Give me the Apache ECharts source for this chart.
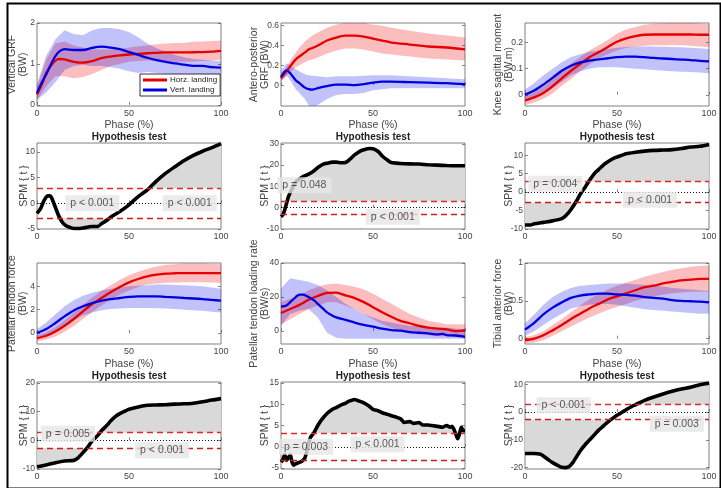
<!DOCTYPE html>
<html>
<head>
<meta charset="utf-8">
<script src="https://cdn.jsdelivr.net/npm/echarts@6/dist/echarts.min.js"></script>
<style>
    html, body {margin: 0; padding: 0; background: #fff;}
    #chart {width: 721px; height: 488px;}
</style>
</head>
<body>
<div id="chart"></div>
<script>
// common phase sampling (%)
const PHASE = [0, 5, 10, 15, 20, 25, 30, 35, 40, 45, 50, 55, 60, 65, 70, 75, 80, 85, 90, 95, 100];

// vertical GRF (BW)
const vgrfX = [0, 3, 5, 8, 10, 12, 15, 20, 25, 30, 35, 40, 45, 50, 55, 60, 65, 70, 75, 80, 85, 90, 95, 100];
const vgrfHorz = [0.25, 0.53, 0.78, 0.98, 1.08, 1.12, 1.11, 1.05, 1.03, 1.07, 1.14, 1.18, 1.21, 1.23, 1.245, 1.26, 1.27, 1.28, 1.28, 1.28, 1.285, 1.29, 1.30, 1.32];
const vgrfVert = [0.29, 0.58, 0.74, 1.03, 1.19, 1.3, 1.36, 1.34, 1.34, 1.39, 1.42, 1.4, 1.36, 1.29, 1.22, 1.15, 1.09, 1.05, 1.01, 0.98, 0.95, 0.95, 0.92, 0.91];
const vgrfHorzUp = [0.45, 1.1, 1.5, 1.55, 1.45, 1.4, 1.35, 1.35, 1.35, 1.37, 1.4, 1.43, 1.45, 1.48, 1.5, 1.51, 1.52, 1.54, 1.55, 1.56, 1.57];
const vgrfHorzLo = [0.1, 0.45, 0.7, 0.7, 0.65, 0.68, 0.75, 0.85, 0.95, 1.0, 1.05, 1.07, 1.08, 1.07, 1.05, 1.05, 1.05, 1.06, 1.07, 1.08, 1.1];
const vgrfVertUp = [0.5, 1.2, 1.6, 1.82, 1.73, 1.7, 1.82, 1.88, 1.88, 1.85, 1.78, 1.65, 1.5, 1.38, 1.3, 1.22, 1.16, 1.12, 1.1, 1.08, 1.07];
const vgrfVertLo = [0.12, 0.3, 0.55, 0.85, 0.95, 0.98, 0.95, 0.95, 0.92, 0.88, 0.82, 0.78, 0.8, 0.78, 0.76, 0.75, 0.76, 0.75, 0.75, 0.75, 0.73];

// antero-posterior GRF (BW)
const apX = [0, 3, 5, 8, 10, 13, 15, 17, 20, 25, 30, 35, 40, 45, 50, 55, 60, 70, 80, 90, 100];
const apHorz = [0.07, 0.14, 0.19, 0.26, 0.29, 0.33, 0.36, 0.375, 0.4, 0.45, 0.48, 0.5, 0.5, 0.49, 0.47, 0.45, 0.43, 0.41, 0.39, 0.38, 0.36];
const apVert = [0.085, 0.15, 0.12, 0.05, 0.02, -0.025, -0.04, -0.045, -0.03, -0.01, 0.005, 0.005, 0, 0.01, 0.025, 0.035, 0.035, 0.03, 0.025, 0.02, 0.01];
const apHorzUp = [0.1, 0.18, 0.25, 0.33, 0.38, 0.44, 0.47, 0.5, 0.53, 0.58, 0.61, 0.63, 0.64, 0.63, 0.61, 0.6, 0.58, 0.55, 0.52, 0.5, 0.48];
const apHorzLo = [0.04, 0.09, 0.13, 0.18, 0.2, 0.23, 0.25, 0.26, 0.28, 0.32, 0.35, 0.37, 0.37, 0.36, 0.34, 0.32, 0.31, 0.29, 0.27, 0.26, 0.25];
const apVertUp = [0.14, 0.22, 0.2, 0.16, 0.14, 0.11, 0.1, 0.095, 0.09, 0.08, 0.09, 0.09, 0.09, 0.095, 0.1, 0.1, 0.1, 0.09, 0.08, 0.07, 0.06];
const apVertLo = [0.04, 0.1, 0.05, -0.04, -0.08, -0.14, -0.2, -0.23, -0.2, -0.14, -0.1, -0.09, -0.09, -0.08, -0.05, -0.04, -0.03, -0.03, -0.03, -0.03, -0.03];

// knee sagittal moment (BW.m)
const kneeHorz = [-0.022, -0.01, 0.007, 0.033, 0.063, 0.092, 0.118, 0.144, 0.163, 0.183, 0.203, 0.216, 0.225, 0.23, 0.231, 0.231, 0.231, 0.231, 0.231, 0.23, 0.23];
const kneeVert = [0, 0.016, 0.039, 0.065, 0.092, 0.111, 0.124, 0.131, 0.136, 0.14, 0.144, 0.146, 0.146, 0.144, 0.141, 0.139, 0.137, 0.135, 0.133, 0.13, 0.128];
const kneeHorzUp = [-0.005, 0.01, 0.03, 0.06, 0.09, 0.12, 0.145, 0.17, 0.19, 0.21, 0.235, 0.25, 0.26, 0.268, 0.272, 0.274, 0.275, 0.275, 0.275, 0.273, 0.27];
const kneeHorzLo = [-0.04, -0.03, -0.015, 0.005, 0.035, 0.06, 0.09, 0.115, 0.14, 0.155, 0.17, 0.18, 0.185, 0.188, 0.19, 0.19, 0.19, 0.19, 0.188, 0.185, 0.182];
const kneeVertUp = [0.02, 0.045, 0.075, 0.1, 0.125, 0.145, 0.155, 0.165, 0.17, 0.175, 0.18, 0.183, 0.185, 0.185, 0.185, 0.184, 0.183, 0.182, 0.18, 0.178, 0.175];
const kneeVertLo = [-0.02, -0.01, 0.005, 0.025, 0.05, 0.075, 0.09, 0.1, 0.105, 0.105, 0.105, 0.103, 0.1, 0.098, 0.095, 0.092, 0.09, 0.088, 0.087, 0.085, 0.082];

// patellar tendon force (BW)
const ptfHorz = [-0.43, -0.23, 0.14, 0.63, 1.2, 1.86, 2.49, 3.0, 3.49, 3.94, 4.34, 4.63, 4.86, 5.0, 5.09, 5.12, 5.14, 5.14, 5.14, 5.14, 5.14];
const ptfVert = [0, 0.34, 0.86, 1.43, 1.94, 2.29, 2.57, 2.77, 2.91, 3.0, 3.09, 3.14, 3.14, 3.14, 3.09, 3.05, 3.0, 2.96, 2.91, 2.84, 2.77];
const ptfHorzUp = [-0.2, 0.05, 0.5, 1.1, 1.75, 2.45, 3.05, 3.6, 4.1, 4.55, 4.95, 5.25, 5.5, 5.7, 5.85, 5.9, 5.95, 5.95, 5.95, 5.92, 5.9];
const ptfHorzLo = [-0.7, -0.55, -0.3, 0.1, 0.6, 1.2, 1.8, 2.35, 2.85, 3.3, 3.65, 3.95, 4.15, 4.25, 4.3, 4.33, 4.35, 4.35, 4.35, 4.33, 4.3];
const ptfVertUp = [0.35, 0.9, 1.6, 2.3, 2.8, 3.2, 3.45, 3.65, 3.8, 3.9, 4.0, 4.05, 4.1, 4.15, 4.15, 4.12, 4.1, 4.05, 4.0, 3.9, 3.8];
const ptfVertLo = [-0.35, -0.2, 0.15, 0.6, 1.1, 1.5, 1.75, 1.95, 2.05, 2.1, 2.15, 2.15, 2.15, 2.12, 2.1, 2.05, 2.0, 1.95, 1.9, 1.82, 1.75];

// patellar tendon loading rate (BW/s)
const ptlrHorz = [10.6, 13, 15.4, 18.4, 20.6, 22.4, 22.6, 21, 19.4, 17, 14, 11, 8.4, 6, 4.6, 3, 2, 1.4, 1, 0, 0.6];
const ptlrVertX = [0, 3, 5, 8, 10, 12, 15, 18, 20, 23, 25, 28, 30, 35, 40, 45, 50, 55, 60, 65, 70, 75, 80, 85, 88, 90, 95, 100];
const ptlrVert = [14.4, 15, 17, 20, 21.4, 21.4, 20, 18, 16, 13, 11, 9, 8, 6.6, 5, 3.6, 2.6, 1.4, 0.6, 0.2, -0.6, -1, -1.4, -2, -1.6, -2.4, -2.6, -3.4];
const ptlrHorzUp = [17, 19, 21, 24, 26, 27.5, 28, 27, 26, 24.5, 22, 19, 16, 13, 10, 8, 6, 5, 4, 4, 4];
const ptlrHorzLo = [4, 7, 10, 13, 15, 17, 17, 15, 13, 10, 7, 4, 2, 0, -1, -2, -2.5, -3, -3, -3.5, -3.5];
const ptlrVertUp = [25, 31, 30, 29, 27, 24, 20, 16, 13, 10, 8, 6, 5, 4, 3, 3, 2, 2, 2, 1.5, 1];
const ptlrVertLo = [3, 10, 12, 13, 8, -1, -4, -4.5, -4.5, -4.5, -4.5, -4.5, -4.5, -4.5, -4.5, -4.5, -4.5, -4.5, -4.5, -4.5, -4.5];

// tibial anterior force (BW)
const tafHorz = [-0.02, 0, 0.045, 0.11, 0.18, 0.26, 0.33, 0.4, 0.46, 0.52, 0.56, 0.6, 0.64, 0.68, 0.7, 0.73, 0.75, 0.77, 0.78, 0.79, 0.79];
const tafVert = [0.12, 0.21, 0.32, 0.41, 0.48, 0.54, 0.57, 0.585, 0.595, 0.595, 0.585, 0.58, 0.57, 0.55, 0.54, 0.53, 0.51, 0.5, 0.495, 0.49, 0.48];
const tafHorzUp = [0.02, 0.05, 0.1, 0.18, 0.26, 0.35, 0.44, 0.52, 0.59, 0.65, 0.7, 0.74, 0.78, 0.82, 0.85, 0.88, 0.91, 0.93, 0.95, 0.96, 0.97];
const tafHorzLo = [-0.06, -0.05, -0.02, 0.04, 0.1, 0.16, 0.22, 0.28, 0.33, 0.38, 0.42, 0.46, 0.5, 0.53, 0.56, 0.58, 0.6, 0.61, 0.62, 0.62, 0.62];
const tafVertUp = [0.2, 0.32, 0.45, 0.55, 0.62, 0.67, 0.7, 0.71, 0.72, 0.73, 0.73, 0.73, 0.72, 0.71, 0.7, 0.69, 0.67, 0.66, 0.65, 0.64, 0.63];
const tafVertLo = [0.04, 0.1, 0.18, 0.26, 0.33, 0.4, 0.43, 0.45, 0.46, 0.46, 0.45, 0.43, 0.41, 0.39, 0.38, 0.37, 0.36, 0.35, 0.34, 0.33, 0.33];

// SPM{t} curves
const spmVgrfX = [0, 2, 4, 6, 7, 8, 10, 12, 14, 16, 18, 20, 22, 25, 28, 30, 33, 35, 38, 40, 45, 50, 55, 60, 65, 70, 75, 80, 85, 90, 95, 100];
const spmVgrf = [-1.95, -1.0, 0.65, 1.43, 1.43, 1.0, -0.8, -2.6, -3.8, -4.4, -4.7, -4.9, -4.9, -4.8, -4.6, -4.5, -4.5, -4.0, -3.3, -2.7, -1.6, -0.3, 1.3, 2.6, 4.35, 5.85, 7.1, 8.3, 9.3, 10.1, 10.8, 11.6];
const spmApX = [0, 1, 2, 3, 4, 6, 8, 10, 12, 15, 18, 20, 23, 25, 28, 30, 33, 35, 38, 40, 43, 45, 48, 50, 53, 55, 58, 60, 65, 70, 75, 80, 85, 90, 95, 100];
const spmAp = [-4.2, -3.4, -1.1, 2, 5.1, 8.9, 12, 13.5, 14.6, 15.8, 17.4, 18.9, 20.5, 20.9, 21.4, 21.4, 21.1, 21.2, 23.2, 24.8, 26.6, 27.2, 27.8, 27.7, 26.3, 24.3, 22.3, 21.2, 20.8, 20.6, 20.5, 20.2, 20, 19.8, 19.7, 19.7];
const spmKneeX = [0, 3, 5, 10, 15, 20, 22, 25, 28, 30, 33, 35, 38, 40, 43, 45, 48, 50, 55, 60, 65, 70, 75, 80, 85, 90, 95, 100];
const spmKnee = [-8.9, -8.9, -8.6, -8.2, -7.8, -7.2, -6.5, -4.7, -2.4, -0.6, 1.6, 3.15, 5.2, 6.1, 7.5, 8.2, 9.1, 9.5, 10.4, 10.8, 11.1, 11.3, 11.4, 11.5, 11.8, 12.2, 12.4, 12.9];
const spmPtfX = [0, 5, 10, 15, 20, 22, 25, 28, 30, 33, 35, 38, 40, 43, 45, 48, 50, 55, 60, 65, 70, 75, 80, 85, 90, 95, 100];
const spmPtf = [-9.2, -8.6, -7.8, -7.2, -7.0, -6.3, -4.3, -2.0, -0.2, 1.7, 3.3, 5.2, 6.7, 8.5, 9.3, 10.2, 10.8, 11.6, 12.2, 12.3, 12.4, 12.6, 12.7, 12.9, 13.4, 14, 14.5];
const spmPtlrX = [0, 1, 2, 3, 4, 5, 6, 7, 8, 9, 10, 11, 12, 13, 14, 15, 16, 17, 18, 20, 22, 25, 28, 30, 33, 35, 37, 40, 42, 45, 48, 50, 53, 55, 58, 60, 63, 65, 67, 70, 72, 75, 77, 80, 82, 85, 88, 90, 92, 93, 95, 96, 97, 98, 99, 100];
const spmPtlr = [-3.6, -3.0, -1.8, -3.2, -2.6, -1.8, -3.6, -4.3, -4.0, -3.8, -3.6, -3.5, -3.1, -2.6, -1, 0.8, 2.2, 2.8, 3.4, 5, 6.3, 7.8, 8.8, 9.2, 9.9, 10.2, 10.7, 11.1, 10.8, 10.3, 9.5, 8.8, 8.4, 8.0, 7.6, 7.3, 6.9, 6.6, 5.7, 5.9, 5.5, 5.7, 5.1, 5.1, 5.0, 4.8, 4.6, 5, 4.6, 4.8, 3.0, 1.9, 3, 4.6, 3.8, 3.8];
const spmTafX = [0, 5, 8, 10, 13, 15, 18, 20, 22, 24, 26, 28, 30, 33, 35, 38, 40, 43, 45, 48, 50, 53, 55, 58, 60, 63, 65, 70, 75, 80, 85, 90, 95, 100];
const spmTaf = [-14.9, -14.9, -15.1, -15.8, -17.3, -18.2, -19.3, -19.9, -20, -19.6, -18.2, -16.1, -14, -11.5, -10.1, -8, -6.5, -4.8, -3.6, -2.1, -1.2, 0, 0.8, 2.0, 2.6, 3.6, 4.2, 5.4, 6.5, 7.5, 8.3, 8.9, 9.8, 10.4];

// critical thresholds and cluster p values [phase, t, text]
const thresholds = [2.9, 3.1, 2.85, 2.75, 3.25, 2.7];
const pLabels = [
    [[30, 0, 'p < 0.001'], [83, 0, 'p < 0.001']],
    [[12.7, 10.5, 'p = 0.048'], [60.7, -4.2, 'p < 0.001']],
    [[16.5, 2.25, 'p = 0.004'], [68, -2.1, 'p < 0.001']],
    [[16.8, 2.3, 'p = 0.005'], [68, -3.5, 'p < 0.001']],
    [[13.6, 0, 'p = 0.003'], [52.5, 0.6, 'p < 0.001']],
    [[21, 2.4, 'p < 0.001'], [82.5, -4.2, 'p = 0.003']]
];

const FONT = '"Liberation Sans", Arial, sans-serif';
const COL_LEFT = [37, 281, 525];
const ROW_TOP = [23, 143, 263, 382];
const ROW_H = [83, 86, 81, 87];
const GRID_W = 184;
const RED = '#e60000', BLUE = '#0000e0';

let option = {
    animation: false,
    backgroundColor: '#fff',
    textStyle: {fontFamily: FONT},
    grid: [], xAxis: [], yAxis: [], series: [], title: [],
    legend: {
        left: 140, top: 74, orient: 'vertical', itemGap: 2,
        padding: [2, 3, 2, 3], itemWidth: 24, itemHeight: 3,
        backgroundColor: '#fff', borderColor: '#000', borderWidth: 0.8,
        textStyle: {fontSize: 8, color: '#222', fontFamily: FONT, padding: [0, 0, 0, -2]},
        data: [{name: 'Horz. landing', icon: 'rect'}, {name: 'Vert. landing', icon: 'rect'}]
    },
    graphic: [{
        type: 'rect', left: 5, top: 1, z: 100, silent: true,
        shape: {width: 713, height: 485},
        style: {fill: 'none', stroke: '#000', lineWidth: 2}
    }]
};

function pairs(xs, ys) {
    return xs.map((x, i) => [x, ys[i]]);
}

// part of the curve beyond the threshold, with the crossing points added
function beyond(xs, ys, t, above) {
    let out = [];
    for (let i = 0; i < xs.length; i++) {
        if (i > 0) {
            let a = ys[i - 1] - t, b = ys[i] - t;
            if (a * b < 0) {
                out.push([xs[i - 1] + (xs[i] - xs[i - 1]) * a / (a - b), t]);
            }
        }
        out.push([xs[i], above ? Math.max(ys[i], t) : Math.min(ys[i], t)]);
    }
    return out;
}

function addAxes(k, col, row, min, max, ticks, name, nameGap, phaseName) {
    let tickStyle = {inside: true, length: 3, lineStyle: {color: '#666', width: 0.8}};
    option.grid.push({
        left: COL_LEFT[col], top: ROW_TOP[row], width: GRID_W, height: ROW_H[row],
        show: true, borderColor: '#808080', borderWidth: 1, backgroundColor: 'transparent'
    });
    option.xAxis.push({
        type: 'value', gridIndex: k, min: 0, max: 100, interval: 50,
        axisLine: {show: false}, splitLine: {show: false}, axisTick: tickStyle,
        axisLabel: {fontSize: 9, color: '#444', margin: 3},
        name: phaseName ? 'Phase (%)' : '', nameLocation: 'middle', nameGap: row === 0 ? 14 : 15,
        nameMoveOverlap: false,
        nameTextStyle: {fontSize: 10.5, color: '#444'}
    });
    option.yAxis[k] = {
        type: 'value', gridIndex: k, min: min, max: max,
        axisLine: {show: false}, splitLine: {show: false},
        axisTick: Object.assign({customValues: ticks}, tickStyle),
        axisLabel: {customValues: ticks, fontSize: 8.5, color: '#444', margin: 2},
        name: name, nameLocation: 'middle', nameGap: nameGap, nameMoveOverlap: false,
        nameTextStyle: {fontSize: 10.5, color: '#444', lineHeight: 11}
    };
    option.yAxis[12 + k] = {
        type: 'value', gridIndex: k, min: min, max: max, position: 'right',
        axisLine: {show: false}, splitLine: {show: false}, axisLabel: {show: false},
        axisTick: Object.assign({customValues: ticks}, tickStyle)
    };
}

// mean +/- sd band as one polygon through the axis scales
function addBand(k, xs, up, lo, color) {
    option.series.push({
        type: 'custom', xAxisIndex: k, yAxisIndex: k, data: [[xs[0], lo[0]]], silent: true,
        renderItem: function (params, api) {
            let pts = xs.map((x, i) => api.coord([x, up[i]]));
            for (let i = xs.length - 1; i >= 0; i--) {
                pts.push(api.coord([xs[i], lo[i]]));
            }
            let cs = params.coordSys;
            return {
                type: 'polygon', shape: {points: pts}, style: {fill: color},
                clipPath: {type: 'rect', shape: {x: cs.x, y: cs.y, width: cs.width, height: cs.height}}
            };
        }
    });
}

function addMean(k, xs, ys, color, name) {
    option.series.push({
        type: 'line', name: name, xAxisIndex: k, yAxisIndex: k, data: pairs(xs, ys),
        symbol: 'none', smooth: 0.3, color: color, lineStyle: {width: 2.3, color: color}
    });
}

function meanPanel(k, col, row, min, max, ticks, name, gap, d) {
    addAxes(k, col, row, min, max, ticks, name, gap, true);
    addBand(k, d.hbx, d.hup, d.hlo, 'rgba(240,0,0,0.26)');
    addMean(k, d.hx, d.h, RED, 'Horz. landing');
    addBand(k, d.vbx, d.vup, d.vlo, 'rgba(0,0,240,0.24)');
    addMean(k, d.vx, d.v, BLUE, 'Vert. landing');
}

function spmPanel(k, col, row, min, max, ticks, gap, xs, ys, thr, labels) {
    addAxes(k, col, row, min, max, ticks, 'SPM { t }', gap, false);
    let fill = {type: 'line', xAxisIndex: k, yAxisIndex: k, symbol: 'none', silent: true, z: 1, lineStyle: {width: 0, opacity: 0}};
    option.series.push(Object.assign({
        data: beyond(xs, ys, thr, true), areaStyle: {color: '#d9d9d9', opacity: 1, origin: thr}
    }, fill));
    option.series.push(Object.assign({
        data: beyond(xs, ys, -thr, false), areaStyle: {color: '#d9d9d9', opacity: 1, origin: -thr}
    }, fill));
    // threshold and zero reference lines
    option.series.push({
        type: 'line', xAxisIndex: k, yAxisIndex: k, data: [[0, 0]], z: 2, silent: true,
        symbol: 'none', lineStyle: {opacity: 0},
        markLine: {
            silent: true, symbol: ['none', 'none'], label: {show: false},
            data: [
                {yAxis: thr, lineStyle: {color: '#e02828', type: [6, 4], width: 1.3}},
                {yAxis: -thr, lineStyle: {color: '#d01e1e', type: [6, 4], width: 1.3}},
                {yAxis: 0, lineStyle: {color: '#111', type: [1, 2], width: 1}}
            ]
        }
    });
    option.series.push({
        type: 'line', xAxisIndex: k, yAxisIndex: k, data: pairs(xs, ys), z: 3,
        symbol: 'none', smooth: 0.25, lineStyle: {width: 3.6, color: '#000'}
    });
    option.series.push({
        type: 'scatter', xAxisIndex: k, yAxisIndex: k, data: labels, z: 5, silent: true,
        symbolSize: 1, itemStyle: {color: 'rgba(0,0,0,0)'},
        label: {
            show: true, position: 'inside', formatter: p => p.value[2],
            fontSize: 10.5, color: '#333', fontFamily: FONT,
            backgroundColor: '#e6e6e6', padding: [3, 5, 2, 5]
        }
    });
    option.title.push({
        text: 'Hypothesis test', left: COL_LEFT[col] + GRID_W / 2, textAlign: 'center',
        top: ROW_TOP[row] - 11, padding: 0,
        textStyle: {fontSize: 10, fontWeight: 'bold', color: '#222', fontFamily: FONT}
    });
}

meanPanel(0, 0, 0, -0.03, 2, [0, 1, 2], 'Vertical GRF\n(BW)', 8,
    {hx: vgrfX, h: vgrfHorz, vx: vgrfX, v: vgrfVert, hbx: PHASE, hup: vgrfHorzUp, hlo: vgrfHorzLo, vbx: PHASE, vup: vgrfVertUp, vlo: vgrfVertLo});
meanPanel(1, 1, 0, -0.21, 0.627, [0, 0.2, 0.4, 0.6], 'Antero-posterior\nGRF (BW)', 10,
    {hx: apX, h: apHorz, vx: apX, v: apVert, hbx: apX, hup: apHorzUp, hlo: apHorzLo, vbx: apX, vup: apVertUp, vlo: apVertLo});
meanPanel(2, 2, 0, -0.043, 0.275, [0, 0.1, 0.2], 'Knee sagittal moment\n(BW.m)', 10,
    {hx: PHASE, h: kneeHorz, vx: PHASE, v: kneeVert, hbx: PHASE, hup: kneeHorzUp, hlo: kneeHorzLo, vbx: PHASE, vup: kneeVertUp, vlo: kneeVertLo});
meanPanel(3, 0, 2, -0.94, 6, [0, 2, 4], 'Patellar tendon force\n(BW)', 8,
    {hx: PHASE, h: ptfHorz, vx: PHASE, v: ptfVert, hbx: PHASE, hup: ptfHorzUp, hlo: ptfHorzLo, vbx: PHASE, vup: ptfVertUp, vlo: ptfVertLo});
meanPanel(4, 1, 2, -7.6, 40, [0, 20, 40], 'Patellar tendon loading rate\n(BW/s)', 10,
    {hx: PHASE, h: ptlrHorz, vx: ptlrVertX, v: ptlrVert, hbx: PHASE, hup: ptlrHorzUp, hlo: ptlrHorzLo, vbx: PHASE, vup: ptlrVertUp, vlo: ptlrVertLo});
meanPanel(5, 2, 2, -0.07, 1, [0, 0.5, 1], 'Tibial anterior force\n(BW)', 10,
    {hx: PHASE, h: tafHorz, vx: PHASE, v: tafVert, hbx: PHASE, hup: tafHorzUp, hlo: tafHorzLo, vbx: PHASE, vup: tafVertUp, vlo: tafVertLo});

spmPanel(6, 0, 1, -5, 11.7, [-5, 0, 5, 10], 7, spmVgrfX, spmVgrf, thresholds[0], pLabels[0]);
spmPanel(7, 1, 1, -10, 30.4, [-10, 0, 10, 20, 30], 10, spmApX, spmAp, thresholds[1], pLabels[1]);
spmPanel(8, 2, 1, -10, 13.3, [-10, -5, 0, 5, 10], 10, spmKneeX, spmKnee, thresholds[2], pLabels[2]);
spmPanel(9, 0, 3, -10, 20.3, [-10, 0, 10, 20], 7, spmPtfX, spmPtf, thresholds[3], pLabels[3]);
spmPanel(10, 1, 3, -5.2, 15.2, [-5, 0, 5, 10, 15], 10, spmPtlrX, spmPtlr, thresholds[4], pLabels[4]);
spmPanel(11, 2, 3, -20.5, 10.8, [-20, -10, 0, 10], 10, spmTafX, spmTaf, thresholds[5], pLabels[5]);

let chart = echarts.init(document.getElementById('chart'), null, {renderer: 'canvas'});
chart.setOption(option);
</script>
</body>
</html>
